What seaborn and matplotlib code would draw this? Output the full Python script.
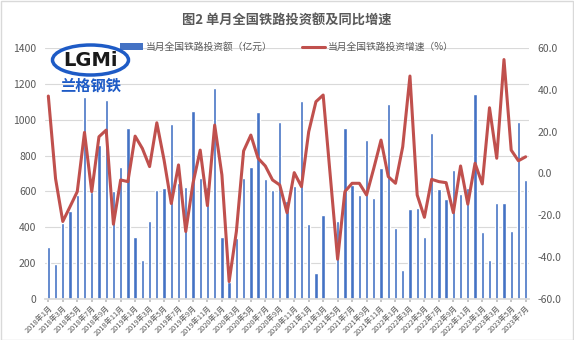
import numpy as np
import pandas as pd
import matplotlib
matplotlib.use("Agg")
import matplotlib.pyplot as plt
from matplotlib.patches import Ellipse, Rectangle, Patch
from matplotlib.lines import Line2D
import seaborn as sns

nan = np.nan
months = [f"{y}年{m}月" for y in range(2018, 2024) for m in range(1, 13)][:67]

amount = [291, 192, 421, 488, 578, 1130, 598, 857, 1109, 604, 738, 952,
          347, 216, 436, 608, 617, 975, 645, 626, 1049, 673, 626, 1176,
          347, 95, 337, 677, 734, 1044, 671, 608, 990, 546, 632, 1105,
          416, 142, 468, nan, 434, 952, 636, 580, 887, 565, 729, 1087,
          393, 160, 500, 505, 347, 928, 611, 555, 720, 585, 621, 1145,
          375, 216, 537, 537, 380, 986, 662]

growth = [37.1, -2.5, -23.0, -15.9, -8.7, 19.7, -8.7, 17.6, 20.8, -24.3, -3.1, -3.9,
          17.9, 12.0, 3.3, 24.3, 6.5, -14.4, 4.1, -27.8, -4.7, 11.2, -15.4, 23.2,
          -0.7, -51.8, -27.8, 10.8, 18.4, 7.3, 3.6, -3.1, -5.5, -18.8, 0.4, -6.3,
          20.0, 34.4, 37.6, nan, -41.1, -8.7, -4.7, -4.7, -10.3, 2.5, 16.0, -1.5,
          -4.7, 12.8, 46.7, -10.3, -21.0, -2.8, -3.9, -4.4, -18.8, 3.6, -14.7, 4.9,
          -5.0, 31.5, 7.3, 54.6, 11.2, 6.1, 8.0]

left_ticks = [0, 200, 400, 600, 800, 1000, 1200, 1400]
right_ticks = [-60, -40, -20, 0, 20, 40, 60]

title = "图2 单月全国铁路投资额及同比增速"
bar_label = "当月全国铁路投资额（亿元）"
line_label = "当月全国铁路投资增速（%）"

BLUE = "#4472C4"
RED = "#C0504D"
GRAY = "#595959"

sns.set_theme(style="white")
plt.rcParams['font.family'] = ['Noto Sans CJK SC', 'DejaVu Sans']

df = pd.DataFrame({"month": months, "idx": np.arange(len(months)),
                   "amount": amount, "growth": growth})

fig = plt.figure(figsize=(5.74, 3.40), dpi=100)
ax = fig.add_axes([0.0779, 0.1215, 0.9221 - 0.0779, 0.858 - 0.1215])

sns.barplot(data=df.dropna(subset=["amount"]), x="idx", y="amount",
            color=BLUE, saturation=1, width=0.46, ax=ax, native_scale=True)
ax.set_xlim(-0.5, len(months) - 0.5)
ax.set_ylim(0, 1400)
ax.set_yticks(left_ticks)
ax.set_yticklabels([str(t) for t in left_ticks], fontsize=7.5, color=GRAY)
ax.yaxis.grid(True, color="#D9D9D9", lw=0.8)
ax.set_axisbelow(True)
ax.set_xlabel("")
ax.set_ylabel("")
for s in ["left", "right", "top"]:
    ax.spines[s].set_visible(False)
ax.spines["bottom"].set_color("#D9D9D9")
ax.tick_params(axis="y", length=0, pad=6)

ax2 = ax.twinx()
sns.lineplot(data=df.dropna(subset=["growth"]), x="idx", y="growth", color=RED,
             linewidth=2.2, ax=ax2)
ax2.set_ylim(-60, 60)
ax2.set_yticks(right_ticks)
ax2.set_yticklabels([f"{t:.1f}" for t in right_ticks], fontsize=7.5, color=GRAY)
ax2.set_ylabel("")
ax2.set_xlabel("")
for s in ["left", "right", "top", "bottom"]:
    ax2.spines[s].set_visible(False)
ax2.tick_params(axis="y", length=0, pad=6)
ax2.set_xlim(-0.5, len(months) - 0.5)

tick_pos = list(range(0, len(months), 2))
ax.set_xticks(tick_pos)
ax.set_xticklabels([months[i] for i in tick_pos], rotation=45, ha="right",
                   rotation_mode="anchor", fontsize=5.3, color=GRAY)
ax.tick_params(axis="x", length=2.5, color="#BFBFBF", pad=1.5, bottom=True)

fig.text(0.5, 0.94, title, ha="center", va="center", fontsize=9.5,
         fontweight="bold", color=GRAY)

handles = [Patch(facecolor=BLUE, edgecolor="none"),
           Line2D([0], [0], color=RED, lw=2.2)]
fig.legend(handles, [bar_label, line_label], loc="center", bbox_to_anchor=(0.5, 0.862),
           ncol=2, frameon=False, fontsize=7, handlelength=2.4, handleheight=0.6,
           columnspacing=3.0, handletextpad=0.3, labelcolor=GRAY)

# logo watermark
fig.patches.append(Ellipse((90.5 / 574, 1 - 60 / 340), 76 / 574, 30 / 340,
                           transform=fig.transFigure, facecolor="white",
                           edgecolor="#1E5BC6", lw=2.5, zorder=10))
fig.text(90.5 / 574, 1 - 60 / 340, "LGMi", ha="center", va="center", fontsize=14,
         fontweight="bold", color="#1a1a1a", family="DejaVu Sans", zorder=11)
fig.text(91 / 574, 1 - 86 / 340, "兰格钢铁", ha="center", va="center", fontsize=11,
         fontweight="bold", color="#1E5BC6", style="italic", zorder=11)

fig.patches.append(Rectangle((0.001, 0.001), 0.997, 0.997, transform=fig.transFigure,
                             fill=False, edgecolor="#D9D9D9", lw=1))

fig.savefig("out.png", dpi=100)
